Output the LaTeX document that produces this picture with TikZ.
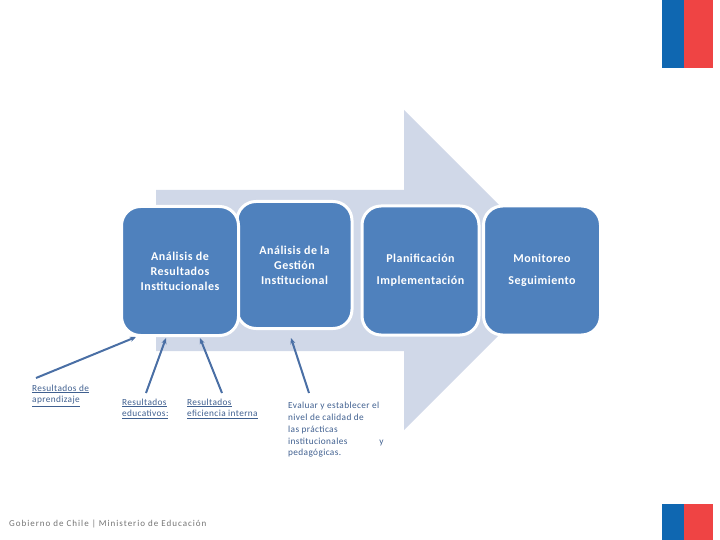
\documentclass[tikz,border=0pt]{standalone}
\usepackage{fontspec}
\setmainfont{Carlito}
\newfontfamily\boxfont[LetterSpace=4]{Carlito Bold}
\newfontfamily\smallfont[LetterSpace=4]{Carlito}
\newfontfamily\footfont[LetterSpace=11]{Carlito}
\usetikzlibrary{arrows.meta}
\definecolor{boxblue}{HTML}{4F81BD}
\definecolor{arrowfill}{HTML}{D0D8E8}
\definecolor{linkblue}{HTML}{3F5F8F}
\definecolor{arrowline}{HTML}{4A6FA5}
\definecolor{flagblue}{HTML}{0F67B1}
\definecolor{flagred}{HTML}{EF4444}
\tikzset{
 stagebox/.style={draw=white,line width=3pt,fill=boxblue,rounded corners=19pt,minimum width=117pt,minimum height=129pt,inner sep=0pt,text=white,align=center,font=\boxfont\fontsize{12}{15}\selectfont},
 smalltext/.style={inner sep=0pt,align=left,text=linkblue,font=\smallfont\fontsize{9.3}{11.8}\selectfont,anchor=north west},
 pointer/.style={draw=arrowline,line width=2pt,-{Stealth[length=6pt,width=5pt]}},
}
\begin{document}
\begin{tikzpicture}[x=1pt,y=-1pt]
\useasboundingbox (0,0) rectangle (720,540);
\fill[arrowfill] (156,190) -- (404,190) -- (404,110) -- (564,270) -- (404,430) -- (404,351) -- (156,351) -- cycle;
\fill[flagblue] (662,0) rectangle (684,68);
\fill[flagred] (684,0) rectangle (713,68);
\fill[flagblue] (662,504) rectangle (684,540);
\fill[flagred] (684,504) rectangle (713,540);
\node[stagebox,minimum width=115pt,minimum height=127pt] (b) at (294.5,265) {Análisis de la\\Gestión\\Institucional};
\node[stagebox] (a) at (180,271) {Análisis de\\Resultados\\Institucionales};
\node[stagebox] (c) at (420.5,270.5) {Planificación\\[7pt]Implementación};
\node[stagebox] (d) at (542,270.5) {Monitoreo\\[7pt]Seguimiento};
\node[smalltext] (t1) at (32,384.5) {\underline{Resultados de}\\\underline{aprendizaje}};
\node[smalltext] (t2) at (122,398.5) {\underline{Resultados}\\\underline{educativos:}};
\node[smalltext] (t3) at (187,398.5) {\underline{Resultados}\\\underline{eficiencia interna}};
\node[smalltext] (t4) at (288,402) {Evaluar y establecer el\\nivel de calidad de\\las prácticas\\institucionales\hspace{32pt}y\\pedagógicas.};
\coordinate (e1) at (136,337);
\coordinate (e2) at (166,338);
\coordinate (e3) at (200,338);
\coordinate (e4) at (291,338);
\coordinate (s1) at (36,378);
\coordinate (s2) at (146,393);
\coordinate (s3) at (222,393);
\coordinate (s4) at (309,393);
\draw[pointer] (s1) -- (e1);
\draw[pointer] (s2) -- (e2);
\draw[pointer] (s3) -- (e3);
\draw[pointer] (s4) -- (e4);
\node[inner sep=0pt,anchor=west,text=black!55,font=\footfont\fontsize{9}{11}\selectfont] (f) at (9,524) {Gobierno de Chile | Ministerio de Educación};
\end{tikzpicture}
\end{document}
